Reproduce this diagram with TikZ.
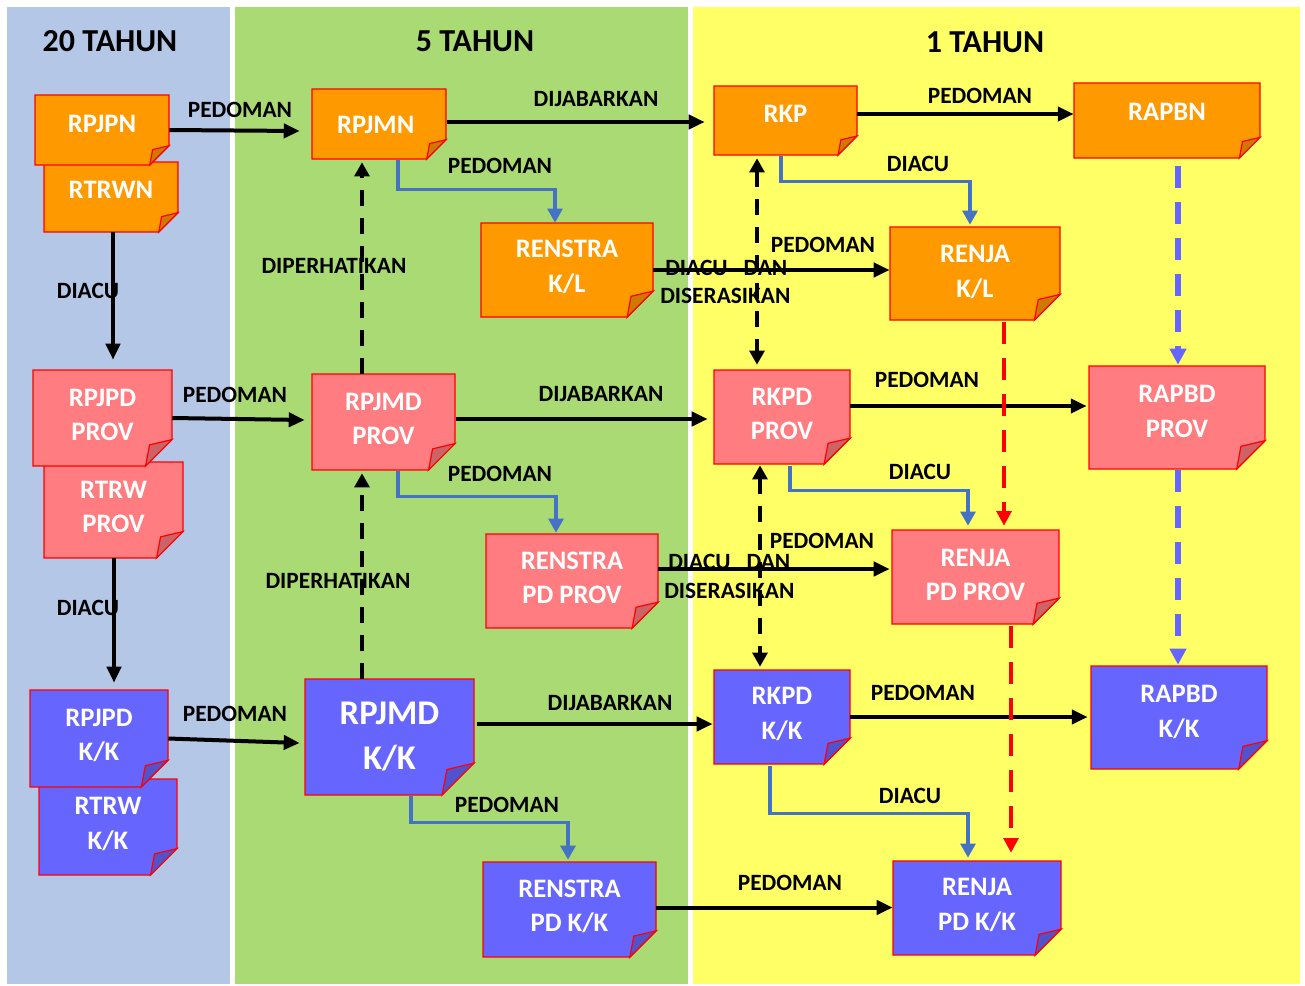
\documentclass[tikz,border=0pt]{standalone}
\usepackage{fontspec}
\setmainfont{Carlito}
\usetikzlibrary{arrows.meta,calc}
\definecolor{colblue}{HTML}{B4C7E7}
\definecolor{colgreen}{HTML}{A9DA74}
\definecolor{colyellow}{HTML}{FFFF66}
\definecolor{orng}{HTML}{FF9900}
\definecolor{orngfold}{HTML}{CC7A00}
\definecolor{pnk}{HTML}{FF7C80}
\definecolor{pnkfold}{HTML}{CC6366}
\definecolor{blu}{HTML}{6666FF}
\definecolor{blufold}{HTML}{5252CC}
\definecolor{elbow}{HTML}{4472C4}
\definecolor{rd}{HTML}{FF0000}
\tikzset{
  notebody/.style={draw=rd, line width=0.9pt, line join=miter},
  notetext/.style={text=white, font=\bfseries\fontsize{20}{26}\selectfont, align=center, inner sep=0pt, yshift=2.25pt},
  bignote/.style={font=\bfseries\fontsize{26}{34}\selectfont},
  hdr/.style={font=\bfseries\fontsize{24}{28}\selectfont, inner sep=0pt},
  lbl/.style={font=\bfseries\fontsize{17.5}{22}\selectfont, text=black, inner sep=0pt},
  blk/.style={line width=3pt, -{Triangle[length=12pt,width=10.5pt]}},
  bdash/.style={line width=3.5pt, dash pattern=on 12pt off 9pt, -{Triangle[length=10.5pt,width=11pt]}},
  bdashtwo/.style={line width=3.5pt, dash pattern=on 12pt off 9pt, {Triangle[length=10.5pt,width=11pt]}-{Triangle[length=10.5pt,width=11pt]}},
  elb/.style={draw=elbow, line width=2.6pt, -{Triangle[length=10.5pt,width=11pt]}},
  rdash/.style={draw=rd, line width=3.5pt, dash pattern=on 16pt off 11pt, -{Triangle[length=11pt,width=11pt]}},
  pdash/.style={draw=blu, line width=4pt, dash pattern=on 16pt off 11pt, -{Triangle[length=12pt,width=12pt]}},
}
% #1 name #2 x1 #3 y1 #4 x2 #5 y2 #6 colour #7 text options #8 text
\newcommand\notebox[8]{%
  \pgfmathsetmacro\nbw{(#4-#2)*0.75}%
  \pgfmathsetmacro\nbh{(#5-#3)*0.75}%
  \pgfmathsetmacro\nbc{0.275*(#5-#3)}%
  \filldraw[notebody, fill=#6] (#2,#3) -- (#4,#3) -- (#4,#5-\nbc) -- (#4-\nbc,#5) -- (#2,#5) -- cycle;
  \filldraw[notebody, fill=#6fold] (#4,#5-\nbc) -- (#4-0.85*\nbc,#5-0.8*\nbc) -- (#4-\nbc,#5) -- cycle;
  \node[inner sep=0pt, minimum width=\nbw pt, minimum height=\nbh pt] (#1) at ({(#2+#4)/2},{(#3+#5)/2}) {};
  \node[notetext, #7] (#1-t) at (#1.center) {#8};
}
\begin{document}
\begin{tikzpicture}[x=0.75pt,y=-0.75pt]
\useasboundingbox (0,0) rectangle (1305,985);
\fill[white] (0,0) rectangle (1305,985);
\fill[colblue] (7,7) rectangle (230,984);
\fill[colgreen] (235,7) rectangle (688,984);
\fill[colyellow] (693,7) rectangle (1300,984);

% headers
\node[hdr] (h20) at (110,41.5) {20 TAHUN};
\node[hdr] (h5) at (475,41.5) {5 TAHUN};
\node[hdr] (h1) at (985,42.5) {1 TAHUN};

% orange row
\notebox{RTRWN}{44}{162}{178}{232}{orng}{yshift=2.75pt}{RTRWN}
\notebox{RPJPN}{35}{95}{169}{165}{orng}{yshift=2.5pt}{RPJPN}
\notebox{RPJMN}{312}{89}{446}{159}{orng}{yshift=-3pt,xshift=-2.5pt}{RPJMN}
\notebox{RENSTRAKL}{481}{223}{653}{317}{orng}{}{RENSTRA\\K/L}
\notebox{RKP}{714}{86}{857}{155}{orng}{yshift=2.5pt}{RKP}
\notebox{RAPBN}{1074}{83}{1260}{158}{orng}{yshift=4pt}{RAPBN}
\notebox{RENJAKL}{890}{227}{1060}{320}{orng}{yshift=-1pt}{RENJA\\K/L}

% pink row
\notebox{RTRWP}{44}{462}{183}{558}{pnk}{}{RTRW\\PROV}
\notebox{RPJPDP}{33}{370}{172}{466}{pnk}{}{RPJPD\\PROV}
\notebox{RPJMDP}{312}{374}{455}{470}{pnk}{}{RPJMD\\PROV}
\notebox{RENSTRAP}{486}{534}{658}{628}{pnk}{}{RENSTRA\\PD PROV}
\notebox{RKPDP}{714}{370}{850}{464}{pnk}{}{RKPD\\PROV}
\notebox{RAPBDP}{1089}{366}{1265}{469}{pnk}{yshift=2.25pt}{RAPBD\\PROV}
\notebox{RENJAP}{892}{530}{1059}{624}{pnk}{yshift=-0.75pt}{RENJA\\PD PROV}

% blue row
\notebox{RTRWK}{39}{779}{177}{875}{blu}{}{RTRW\\K/K}
\notebox{RPJPDK}{30}{690}{168}{787}{blu}{}{RPJPD\\K/K}
\notebox{RPJMDK}{305}{679}{474}{795}{blu}{bignote, yshift=-2pt}{RPJMD\\K/K}
\notebox{RENSTRAK}{483}{862}{656}{957}{blu}{}{RENSTRA\\PD K/K}
\notebox{RKPDK}{714}{670}{850}{764}{blu}{}{RKPD\\K/K}
\notebox{RAPBDK}{1091}{666}{1267}{769}{blu}{yshift=2pt}{RAPBD\\K/K}
\notebox{RENJAK}{893}{861}{1061}{955}{blu}{}{RENJA\\PD K/K}

% labels
\node[lbl] (l1) at (240,110) {PEDOMAN};
\node[lbl] (l2) at (596,99) {DIJABARKAN};
\node[lbl] (l3) at (500,166) {PEDOMAN};
\node[lbl] (l4) at (980,96) {PEDOMAN};
\node[lbl] (l5) at (918,164) {DIACU};
\node[lbl] (l6) at (334,266) {DIPERHATIKAN};
\node[lbl] (l7) at (823,245) {PEDOMAN};
\node[lbl, anchor=west] (l8) at (665,268) {DIACU\hspace{12pt}DAN};
\node[lbl, anchor=west] (l9) at (660,296) {DISERASIKAN};
\node[lbl] (l10) at (88,291) {DIACU};
\node[lbl] (l11) at (235,395) {PEDOMAN};
\node[lbl] (l12) at (601,394) {DIJABARKAN};
\node[lbl] (l13) at (927,380) {PEDOMAN};
\node[lbl] (l14) at (500,474) {PEDOMAN};
\node[lbl] (l15) at (920,472) {DIACU};
\node[lbl] (l16) at (822,541) {PEDOMAN};
\node[lbl, anchor=west] (l17) at (668,562) {DIACU\hspace{12pt}DAN};
\node[lbl, anchor=west] (l18) at (664,591) {DISERASIKAN};
\node[lbl] (l19) at (338,581) {DIPERHATIKAN};
\node[lbl] (l20) at (88,608) {DIACU};
\node[lbl] (l21) at (235,714) {PEDOMAN};
\node[lbl] (l22) at (610,703) {DIJABARKAN};
\node[lbl] (l23) at (923,693) {PEDOMAN};
\node[lbl] (l24) at (507,805) {PEDOMAN};
\node[lbl] (l25) at (910,796) {DIACU};
\node[lbl] (l26) at (790,883) {PEDOMAN};

% helper coordinates
\coordinate (c1) at ($(RKP.east)+(0,-6.5)$);
\coordinate (c2) at ($(RTRWN.south)+(2,0)$);
\coordinate (c3) at ($(RPJMDP.east)+(1,-3)$);
\coordinate (c4) at ($(RKPDP.east)+(0,-11)$);
\coordinate (c5) at ($(RENSTRAP.east)+(0,-12)$);
\coordinate (c6) at ($(RTRWP.south)+(0.5,0)$);
\coordinate (c7) at ($(RPJMDK.east)+(3,-13)$);
\coordinate (c8) at ($(RPJMN.east)+(1,-2)$);
\coordinate (c9) at ($(RENSTRAK.east)+(0,-2)$);
\coordinate (d1) at ($(RPJMDP.north)+(-21.5,0)$);
\coordinate (d2) at ($(RPJMDK.north)+(-27.5,0)$);
\coordinate (d3) at ($(RKP.south)+(-28.5,3)$);
\coordinate (d4) at ($(RKPDP.south)+(-22,1)$);
\coordinate (r1) at ($(RENJAKL.south)+(29,2)$);
\coordinate (r2) at ($(RENJAP.south)+(35.5,2)$);
\coordinate (p1) at ($(RAPBN.south)+(11,8)$);
\coordinate (p2) at ($(RAPBDP.south)+(1,1)$);

% black solid
\draw[blk] (RPJPN.east) -- ($(RPJMN.west)+(-12,7)$);
\draw[blk] (c8) -- ($(c8 -| RKP.west)+(-9,0)$);
\draw[blk] (c1) -- (c1 -| RAPBN.west);
\draw[blk] (RENSTRAKL.east) -- (RENSTRAKL.east -| RENJAKL.west);
\draw[blk] (c2) -- ($(c2 |- RPJPDP.north)+(0,-10)$);
\draw[blk] (RPJPDP.east) -- ($(RPJMDP.west)+(-7,-2)$);
\draw[blk] (c3) -- ($(c3 -| RKPDP.west)+(-6,0)$);
\draw[blk] (c4) -- ($(c4 -| RAPBDP.west)+(-2,0)$);
\draw[blk] (c5) -- ($(c5 -| RENJAP.west)+(-2,0)$);
\draw[blk] (c6) -- ($(c6 |- RPJPDK.north)+(0,-7)$);
\draw[blk] (RPJPDK.east) -- ($(RPJMDK.west)+(-5,6)$);
\draw[blk] (c7) -- ($(c7 -| RKPDK.west)+(-1,0)$);
\draw[blk] (RKPDK.east) -- ($(RKPDK.east -| RAPBDK.west)+(-3,0)$);
\draw[blk] (c9) -- (c9 -| RENJAK.west);

% black dashed
\draw[bdash] (d1) -- ($(d1 |- RPJMN.south)+(0,3)$);
\draw[bdash] (d2) -- ($(d2 |- RPJMDP.south)+(0,3)$);
\draw[bdashtwo] (d3) -- ($(d3 |- RKPDP.north)+(0,-5)$);
\draw[bdashtwo] (d4) -- ($(d4 |- RKPDK.north)+(0,-3)$);

% blue elbows
\draw[elb] ($(RPJMN.south)+(19,1)$) -- ++(0,29) -| ($(RENSTRAKL.north)+(-12,0)$);
\draw[elb] ($(RKP.south)+(-4.5,1)$) -- ++(0,25) -| ($(RENJAKL.north)+(-5,-2)$);
\draw[elb] ($(RPJMDP.south)+(14.5,1)$) -- ++(0,25) -| ($(RENSTRAP.north)+(-16,-1)$);
\draw[elb] ($(RKPDP.south)+(8,2)$) -- ++(0,24) -| ($(RENJAP.north)+(-7.5,-4)$);
\draw[elb] ($(RPJMDK.south)+(21.5,1)$) -- ++(0,26) -| ($(RENSTRAK.north)+(-1.5,-2)$);
\draw[elb] ($(RKPDK.south)+(-12,2)$) -- ++(0,47) -| ($(RENJAK.north)+(-9,-3)$);

% red dashed
\draw[rdash] (r1) -- ($(r1 |- RENJAP.north)+(0,-4)$);
\draw[rdash] (r2) -- ($(r2 |- RENJAK.north)+(0,-8)$);

% purple dashed
\draw[pdash] (p1) -- ($(p1 |- RAPBDP.north)+(0,-1)$);
\draw[pdash] (p2) -- ($(p2 |- RAPBDK.north)+(0,-1)$);
\end{tikzpicture}
\end{document}
